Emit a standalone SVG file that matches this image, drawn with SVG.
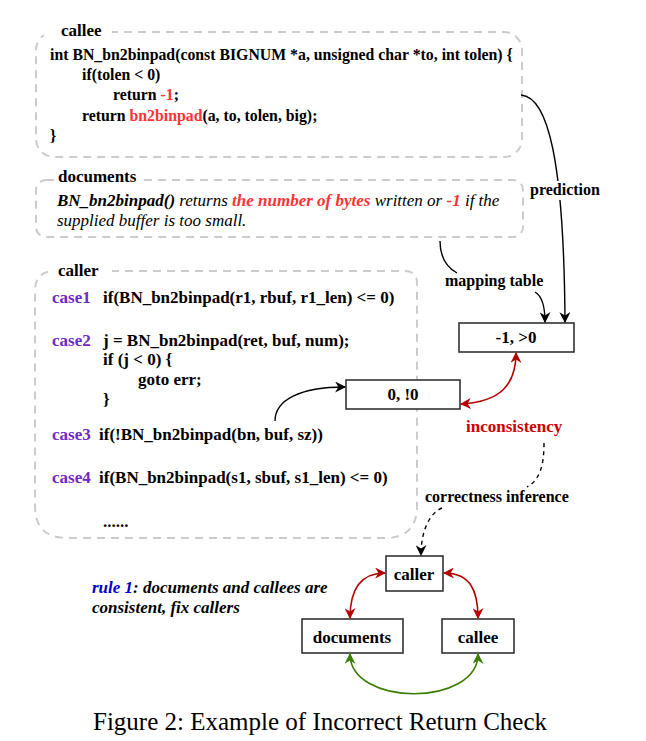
<svg xmlns="http://www.w3.org/2000/svg" width="646" height="741" viewBox="0 0 646 741">
<style>
text{font-family:"Liberation Serif","Times New Roman",serif;font-size:17px;font-weight:bold;fill:#000}
text.code16{font-size:15.8px}
text.lab{font-size:16px}
.grp{fill:none;stroke:#cccccc;stroke-width:2;stroke-dasharray:8 6}
.lbg{fill:#fff}
.box{fill:#fff;stroke:#333;stroke-width:1.6}
.red{fill:#ff3333}
.case{fill:#7028c0}
text.incon{fill:#cc0000}
.it{font-style:italic;font-weight:normal}
.bi{font-style:italic;font-weight:bold}
.c{text-anchor:middle}
.blk{fill:none;stroke:#000;stroke-width:1.4}
.drd{fill:none;stroke:#b20000;stroke-width:1.6}
.grn{fill:none;stroke:#3a7d00;stroke-width:1.6}
</style>
<defs>
<marker id="ab" viewBox="0 0 10 10" refX="9" refY="5" markerWidth="11" markerHeight="11" markerUnits="userSpaceOnUse" orient="auto-start-reverse"><path d="M0,0 L10,5 L0,10 L3,5 z" fill="#000"/></marker>
<marker id="ar" viewBox="0 0 10 10" refX="9" refY="5" markerWidth="11" markerHeight="11" markerUnits="userSpaceOnUse" orient="auto-start-reverse"><path d="M0,0 L10,5 L0,10 L3,5 z" fill="#b20000"/></marker>
<marker id="ag" viewBox="0 0 10 10" refX="9" refY="5" markerWidth="11" markerHeight="11" markerUnits="userSpaceOnUse" orient="auto-start-reverse"><path d="M0,0 L10,5 L0,10 L3,5 z" fill="#3a7d00"/></marker>
</defs>

<g id="callee-group">
<rect class="grp" x="36" y="32" width="486" height="125" rx="18"/>
<rect class="lbg" x="44" y="22" width="68" height="18"/>
<text x="61" y="36">callee</text>
<text class="code16" x="50" y="60">int BN_bn2binpad(const BIGNUM *a, unsigned char *to, int tolen) {</text>
<text class="code16" x="82" y="80">if(tolen &lt; 0)</text>
<text class="code16" x="113" y="100">return <tspan class="red">-1</tspan>;</text>
<text class="code16" x="82" y="121">return <tspan class="red">bn2binpad</tspan>(a, to, tolen, big);</text>
<text class="code16" x="50" y="141">}</text>
</g>

<g id="documents-group">
<rect class="grp" x="36" y="180" width="487" height="57" rx="10"/>
<rect class="lbg" x="54" y="168" width="86" height="18"/>
<text x="58" y="182">documents</text>
<text x="57" y="206" class="it"><tspan class="bi">BN_bn2binpad()</tspan> returns <tspan class="bi red">the number of bytes</tspan> written or <tspan class="bi red">-1</tspan> if the</text>
<text x="57" y="226" class="it">supplied buffer is too small.</text>
</g>

<g id="caller-group">
<path class="grp" d="M55,271 L405,271 Q417,271 417,283 L417,506 Q417,538 385,538 L67,538 Q35,538 35,506 L35,291 Q35,271 55,271 Z"/>
<rect class="lbg" x="52" y="260" width="60" height="18"/>
<text x="58" y="276">caller</text>
<text x="52" y="303"><tspan class="case">case1</tspan></text>
<text x="103" y="303">if(BN_bn2binpad(r1, rbuf, r1_len) &lt;= 0)</text>
<text x="52" y="346"><tspan class="case">case2</tspan></text>
<text x="103" y="346">j = BN_bn2binpad(ret, buf, num);</text>
<text x="103" y="365">if (j &lt; 0) {</text>
<text x="138" y="385">goto err;</text>
<text x="103" y="405">}</text>
<text x="52" y="440"><tspan class="case">case3</tspan></text>
<text x="99" y="440">if(!BN_bn2binpad(bn, buf, sz))</text>
<text x="52" y="483"><tspan class="case">case4</tspan></text>
<text x="99" y="483">if(BN_bn2binpad(s1, sbuf, s1_len) &lt;= 0)</text>
<text x="103" y="527">......</text>
</g>

<g id="node-zero">
<rect class="box" x="346" y="380" width="114" height="29"/>
<text class="c" x="403" y="400">0, !0</text>
</g>

<g id="node-neg">
<rect class="box" x="459" y="323" width="115" height="29"/>
<text class="c" x="516" y="343">-1, &gt;0</text>
</g>

<g id="node-caller">
<rect class="box" x="386" y="556" width="57" height="35"/>
<text class="c" x="414" y="580">caller</text>
</g>
<g id="node-documents">
<rect class="box" x="302" y="619" width="101" height="34"/>
<text class="c" x="352" y="643">documents</text>
</g>
<g id="node-callee">
<rect class="box" x="442" y="619" width="72" height="34"/>
<text class="c" x="478" y="643">callee</text>
</g>

<g id="connectors">
<path class="blk" d="M521,95 C548,97 564,160 565,322" marker-end="url(#ab)"/>
<path class="blk" d="M440,241 C440,258 448,268 457,273"/>
<path class="blk" d="M535,292 C542,296 545,305 545,322" marker-end="url(#ab)"/>
<path class="blk" d="M275,421 C275,400 300,387 345,387" marker-end="url(#ab)"/>
<path class="drd" d="M461,404 C500,402 516,385 516,353" marker-start="url(#ar)" marker-end="url(#ar)"/>
<path class="blk" d="M544,443 C544,465 540,480 527,487" stroke-dasharray="4 4"/>
<path class="blk" d="M442,508 C430,513 421,530 421,555" stroke-dasharray="4 4" marker-end="url(#ab)"/>
<path class="drd" d="M350,618 C350,590 360,573 385,573" marker-start="url(#ar)" marker-end="url(#ar)"/>
<path class="drd" d="M444,573 C470,573 478,590 478,618" marker-start="url(#ar)" marker-end="url(#ar)"/>
<path class="grn" d="M350,654 C350,707 478,707 478,654" marker-start="url(#ag)" marker-end="url(#ag)"/>
</g>

<g id="labels">
<rect class="lbg" x="528" y="181" width="72" height="19"/>
<text class="lab" x="530" y="195">prediction</text>
<text class="lab" x="445" y="286">mapping table</text>
<text class="incon" x="466" y="432">inconsistency</text>
<text class="lab" x="425" y="502">correctness inference</text>
<text x="92" y="593" class="bi"><tspan fill="#0000cc">rule 1</tspan>: documents and callees are</text>
<text x="92" y="613" class="bi">consistent, fix callers</text>
<text x="320" y="730" class="c" style="font-weight:normal;font-size:25px">Figure 2: Example of Incorrect Return Check</text>
</g>
</svg>
